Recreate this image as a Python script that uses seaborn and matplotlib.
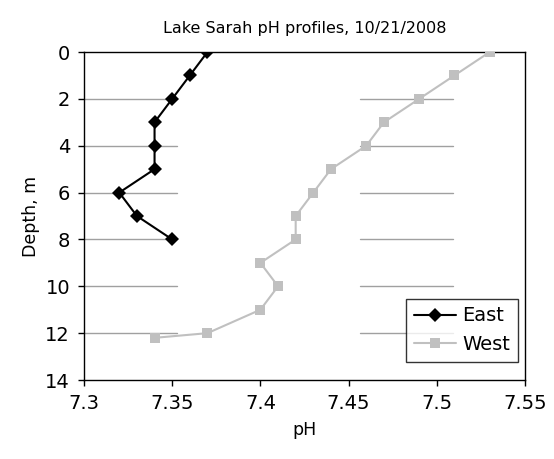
import matplotlib
matplotlib.use("Agg")
import matplotlib.pyplot as plt
import seaborn as sns
import pandas as pd

# pH profiles
east_depth = [0, 1, 2, 3, 4, 5, 6, 7, 8]
east_ph = [7.37, 7.36, 7.35, 7.34, 7.34, 7.34, 7.32, 7.33, 7.35]
west_depth = [0, 1, 2, 3, 4, 5, 6, 7, 8, 9, 10, 11, 12, 12.2]
west_ph = [7.53, 7.51, 7.49, 7.47, 7.46, 7.44, 7.43, 7.42, 7.42, 7.40, 7.41, 7.40, 7.37, 7.34]
x_ticks = [7.3, 7.35, 7.4, 7.45, 7.5, 7.55]
y_ticks = [0, 2, 4, 6, 8, 10, 12, 14]

df = pd.concat([
    pd.DataFrame({"pH": east_ph, "Depth": east_depth, "Site": "East"}),
    pd.DataFrame({"pH": west_ph, "Depth": west_depth, "Site": "West"}),
], ignore_index=True)

sns.set_theme(style="white")
plt.rcParams["font.family"] = ["DejaVu Sans"]
plt.rcParams["text.color"] = "black"
plt.rcParams["axes.labelcolor"] = "black"
plt.rcParams["xtick.color"] = "black"
plt.rcParams["ytick.color"] = "black"

fig = plt.figure(figsize=(5.54, 4.59), dpi=100)
ax = fig.add_axes([0.1516, 0.1721, 0.7961, 0.7146])

# broken grey gridlines like the original
for d in y_ticks[1:-1]:
    ax.axhline(d, xmin=0, xmax=0.211, color="#a0a0a0", lw=1, zorder=0)
    ax.axhline(d, xmin=0.626, xmax=0.837, color="#a0a0a0", lw=1, zorder=0)

sns.lineplot(data=df, x="pH", y="Depth", hue="Site", style="Site",
             palette={"East": "black", "West": "#c0c0c0"},
             markers={"East": "D", "West": "s"}, dashes=False,
             sort=False, estimator=None, markersize=7, linewidth=1.5,
             markeredgewidth=0, ax=ax, zorder=3)

ax.set_xlim(7.3, 7.55)
ax.set_ylim(14, 0)
ax.set_xticks(x_ticks)
ax.set_xticklabels([f"{v:g}" for v in x_ticks])
ax.set_yticks(y_ticks)
ax.tick_params(axis="both", direction="out", length=4, width=1, color="black",
               labelsize=14, bottom=True, left=True, pad=6)
for s in ax.spines.values():
    s.set_color("black")
    s.set_linewidth(1)

ax.set_xlabel("pH", fontsize=12.5, labelpad=6)
ax.set_ylabel("Depth, m", fontsize=12.5, labelpad=4)
ax.set_title("Lake Sarah pH profiles, 10/21/2008", fontsize=11.5, pad=14)

leg = ax.legend(loc="lower right", bbox_to_anchor=(0.984, 0.055),
                fontsize=14, frameon=True, fancybox=False,
                borderaxespad=0, handlelength=2.2, handletextpad=0.3,
                borderpad=0.4, labelspacing=0.5)
leg.get_frame().set_edgecolor("black")
leg.get_frame().set_linewidth(1)
for t in leg.get_texts():
    t.set_color("black")

fig.savefig("out.png", dpi=100)
